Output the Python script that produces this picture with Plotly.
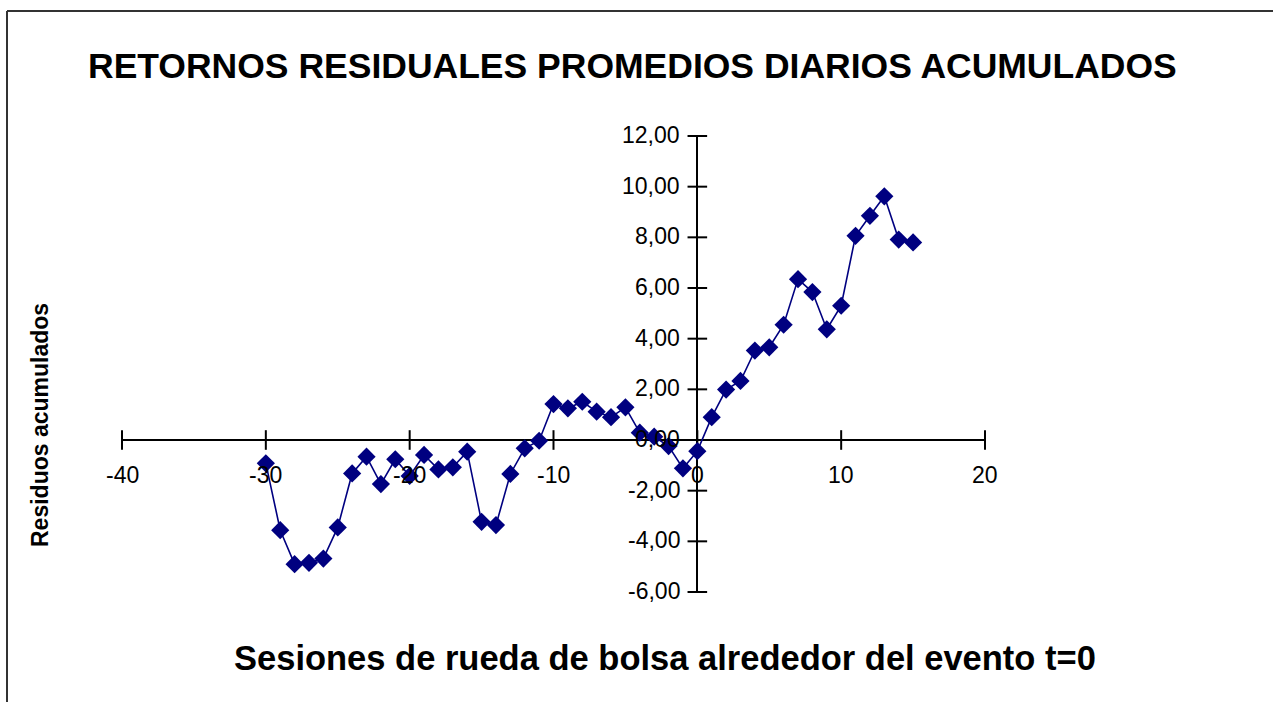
import plotly.graph_objects as go

# ---- data ----
sesiones = list(range(-30, 16))
residuos = [-0.92, -3.56, -4.90, -4.85, -4.68, -3.45, -1.32, -0.66, -1.74, -0.76,
            -1.42, -0.59, -1.16, -1.08, -0.46, -3.23, -3.36, -1.34, -0.33, -0.03,
            1.42, 1.25, 1.51, 1.12, 0.90, 1.29, 0.29, 0.13, -0.24, -1.12,
            -0.44, 0.90, 1.99, 2.33, 3.53, 3.66, 4.55, 6.35, 5.84, 4.37,
            5.30, 8.06, 8.85, 9.62, 7.91, 7.80]

x_ticks = [-40, -30, -20, -10, 0, 10, 20]
x_tick_labels = ["-40", "-30", "-20", "-10", "0", "10", "20"]
y_ticks = [-6, -4, -2, 0, 2, 4, 6, 8, 10, 12]
y_tick_labels = ["-6,00", "-4,00", "-2,00", "0,00", "2,00", "4,00", "6,00", "8,00", "10,00", "12,00"]

title = "RETORNOS RESIDUALES PROMEDIOS DIARIOS ACUMULADOS"
x_title = "Sesiones de rueda de bolsa alrededor del evento t=0"
y_title = "Residuos acumulados"

W, H = 1273, 702
L, R, T, B = 122, 288, 136, 110
pw, ph = W - L - R, H - T - B


def px2paper_x(px):
    return (px - L) / pw


def py2paper_y(py):
    return (H - B - py) / ph


FONT = "Liberation Sans, Arial, sans-serif"
NAVY = "#000080"

fig = go.Figure()

# tick marks crossing the axes
fig.add_trace(go.Scatter(
    x=x_ticks, y=[0] * len(x_ticks), mode="markers",
    marker=dict(symbol="line-ns", size=14, line=dict(color="black", width=2)),
    hoverinfo="skip", showlegend=False, cliponaxis=False))
fig.add_trace(go.Scatter(
    x=[0] * len(y_ticks), y=y_ticks, mode="markers",
    marker=dict(symbol="line-ew", size=14, line=dict(color="black", width=2)),
    hoverinfo="skip", showlegend=False, cliponaxis=False))

# data series
fig.add_trace(go.Scatter(
    x=sesiones, y=residuos, mode="lines+markers",
    line=dict(color=NAVY, width=1.6),
    marker=dict(symbol="diamond", size=14, color=NAVY),
    showlegend=False, cliponaxis=False))

annotations = []
for v, t in zip(x_ticks, x_tick_labels):
    annotations.append(dict(x=v, y=0, xref="x", yref="y", text=t, showarrow=False,
                            yshift=-35, font=dict(family=FONT, size=23, color="black")))
for v, t in zip(y_ticks, y_tick_labels):
    annotations.append(dict(x=0, y=v, xref="x", yref="y", text=t, showarrow=False,
                            xanchor="right", xshift=-15, yshift=1,
                            font=dict(family=FONT, size=23, color="black")))

annotations.append(dict(x=px2paper_x(632), y=py2paper_y(66), xref="paper", yref="paper",
                        text="<b>" + title + "</b>", showarrow=False,
                        xanchor="center", yanchor="middle",
                        font=dict(family=FONT, size=35.5, color="black")))
annotations.append(dict(x=px2paper_x(665), y=py2paper_y(658), xref="paper", yref="paper",
                        text="<b>" + x_title + "</b>", showarrow=False,
                        xanchor="center", yanchor="middle",
                        font=dict(family=FONT, size=34.5, color="black")))
annotations.append(dict(x=px2paper_x(40), y=py2paper_y(425), xref="paper", yref="paper",
                        text="<b>" + y_title + "</b>", showarrow=False, textangle=-90,
                        xanchor="center", yanchor="middle",
                        font=dict(family=FONT, size=23, color="black")))

shapes = [
    dict(type="line", xref="paper", yref="paper",
         x0=px2paper_x(7), x1=px2paper_x(7), y0=py2paper_y(11), y1=py2paper_y(H + 5),
         line=dict(color="#333333", width=2)),
    dict(type="line", xref="paper", yref="paper",
         x0=px2paper_x(7), x1=px2paper_x(W + 5), y0=py2paper_y(11), y1=py2paper_y(11),
         line=dict(color="#333333", width=2)),
]

fig.update_layout(
    width=W, height=H,
    margin=dict(l=L, r=R, t=T, b=B, pad=0),
    paper_bgcolor="white", plot_bgcolor="white",
    xaxis=dict(range=[-40, 20], showgrid=False, showticklabels=False, ticks="",
               showline=False, zeroline=True, zerolinecolor="black", zerolinewidth=2,
               fixedrange=True),
    yaxis=dict(range=[-6, 12], showgrid=False, showticklabels=False, ticks="",
               showline=False, zeroline=True, zerolinecolor="black", zerolinewidth=2,
               fixedrange=True),
    annotations=annotations,
    shapes=shapes,
    showlegend=False,
)

fig.write_html("out.html",
               config={"displayModeBar": False},
               post_script="document.body.style.margin='0';document.body.style.overflow='hidden';")
